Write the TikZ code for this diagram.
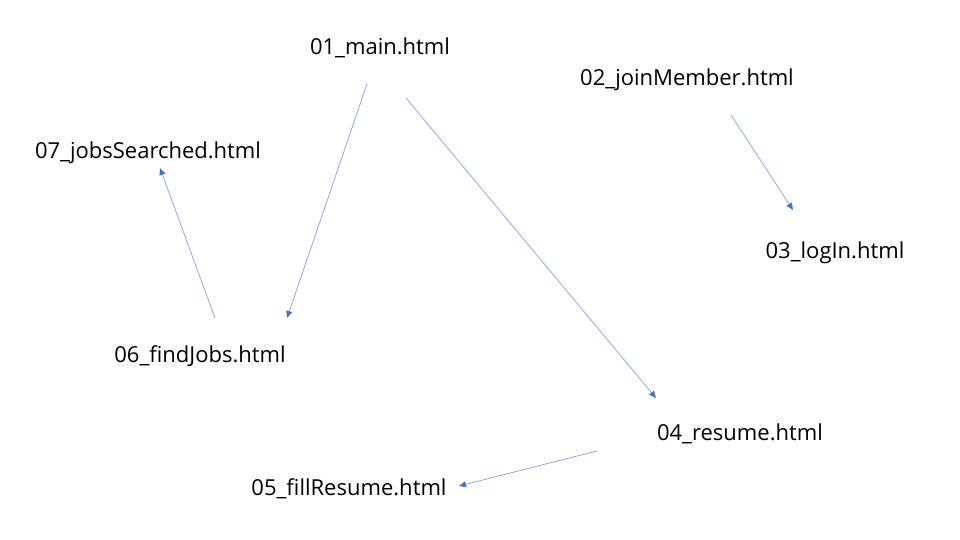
\documentclass[tikz,border=0pt]{standalone}
\usepackage{fontspec}
\setmainfont{Open Sans}
\usetikzlibrary{arrows.meta}
\definecolor{linecol}{RGB}{143,170,220}
\definecolor{tipcol}{RGB}{68,114,196}
\begin{document}
\begin{tikzpicture}[x=1pt,y=-1pt,
  lbl/.style={inner sep=0pt,font=\fontsize{22}{26}\selectfont,text=black},
  conn/.style={draw=linecol,line width=0.8pt,
    -{Triangle[length=7pt,width=6pt,color=tipcol]}}]
\useasboundingbox (0,0) rectangle (960,540);
\node[lbl] (main) at (380,48) {01\_main.html};
\node[lbl] (join) at (687,80) {02\_joinMember.html};
\node[lbl] (searched) at (148,153) {07\_jobsSearched.html};
\node[lbl] (login) at (835,253) {03\_logIn.html};
\node[lbl] (find) at (200,356) {06\_findJobs.html};
\node[lbl] (resume) at (740,434) {04\_resume.html};
\node[lbl] (fill) at (349,489) {05\_fillResume.html};
\coordinate (mainA) at (367,84);
\coordinate (findIn) at (287,318);
\coordinate (mainB) at (406,98);
\coordinate (resumeIn) at (656,398);
\coordinate (joinOut) at (731,115);
\coordinate (loginIn) at (793,210);
\coordinate (findOut) at (215,318);
\coordinate (searchedIn) at (160,168);
\coordinate (resumeOut) at (597,451);
\coordinate (fillIn) at (459,486);
\draw[conn] (mainA) -- (findIn);
\draw[conn] (mainB) -- (resumeIn);
\draw[conn] (joinOut) -- (loginIn);
\draw[conn] (findOut) -- (searchedIn);
\draw[conn] (resumeOut) -- (fillIn);
\end{tikzpicture}
\end{document}
